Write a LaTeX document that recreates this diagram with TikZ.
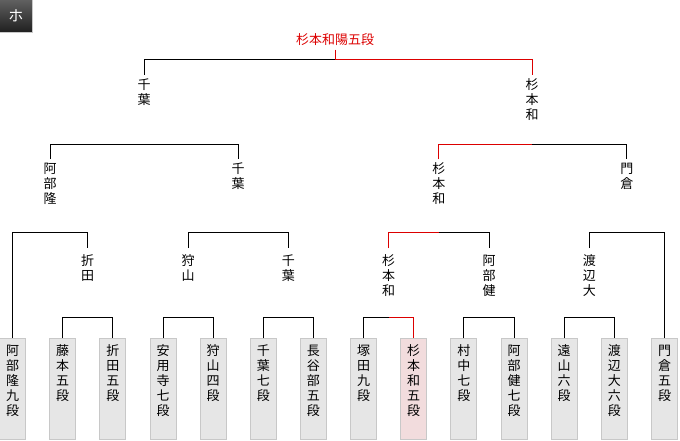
\documentclass[tikz,border=0pt]{standalone}
\usepackage{fontspec}
\newfontfamily\jp{Noto Sans CJK JP}
\usetikzlibrary{calc}
\definecolor{winred}{RGB}{220,0,0}
\definecolor{boxfill}{RGB}{230,230,230}
\definecolor{boxline}{RGB}{200,200,200}
\definecolor{winfill}{RGB}{242,220,221}
\newcommand\tbracket[3]{\draw[link] (#1.north) -- (#1.north |- 0,#3) -- (#2.north |- 0,#3) -- (#2.north);}
\newcommand\tredpath[3]{\draw[win] (#1.north) -- (#1.north |- 0,#3) -- (#2.north |- 0,#3);}
\begin{document}
\begin{tikzpicture}[x=1pt,y=-1pt,
  every node/.style={font=\jp\fontsize{13}{15}\selectfont, inner sep=0pt, outer sep=0pt},
  leafbox/.style={draw=boxline, fill=boxfill, minimum width=26pt, minimum height=101pt, anchor=north, line width=1pt},
  winbox/.style={leafbox, fill=winfill},
  vtext/.style={align=center, anchor=north},
  name1/.style={vtext, inner ysep=7pt},
  name2/.style={vtext, inner ysep=4pt},
  link/.style={line width=1pt, black},
  win/.style={line width=1pt, winred},
  badge/.style={minimum width=33pt, minimum height=33pt, top color=black!62, bottom color=black!88, draw=boxline, line width=1pt, text=white, font=\jp\fontsize{15}{17}\selectfont}
]
\useasboundingbox (0,0) rectangle (680,440);

\node[badge] (tab) at (16,16) {ホ};

% leaves
\node[leafbox] (L0) at (12.5,338) {};
\node[leafbox] (L1) at (62.6,338) {};
\node[leafbox] (L2) at (112.8,338) {};
\node[leafbox] (L3) at (163,338) {};
\node[leafbox] (L4) at (213.1,338) {};
\node[leafbox] (L5) at (263.3,338) {};
\node[leafbox] (L6) at (313.4,338) {};
\node[leafbox] (L7) at (363.6,338) {};
\node[winbox]  (L8) at (413.7,338) {};
\node[leafbox] (L9) at (463.9,338) {};
\node[leafbox] (L10) at (514,338) {};
\node[leafbox] (L11) at (564.2,338) {};
\node[leafbox] (L12) at (614.3,338) {};
\node[leafbox] (L13) at (664.5,338) {};

\node[vtext] (T0) at (12.5,345) {阿\\部\\隆\\九\\段};
\node[vtext] (T1) at (62.6,345) {藤\\本\\五\\段};
\node[vtext] (T2) at (112.8,345) {折\\田\\五\\段};
\node[vtext] (T3) at (163,345) {安\\用\\寺\\七\\段};
\node[vtext] (T4) at (213.1,345) {狩\\山\\四\\段};
\node[vtext] (T5) at (263.3,345) {千\\葉\\七\\段};
\node[vtext] (T6) at (313.4,345) {長\\谷\\部\\五\\段};
\node[vtext] (T7) at (363.6,345) {塚\\田\\九\\段};
\node[vtext] (T8) at (413.7,345) {杉\\本\\和\\五\\段};
\node[vtext] (T9) at (463.9,345) {村\\中\\七\\段};
\node[vtext] (T10) at (514,345) {阿\\部\\健\\七\\段};
\node[vtext] (T11) at (564.2,345) {遠\\山\\六\\段};
\node[vtext] (T12) at (614.3,345) {渡\\辺\\大\\六\\段};
\node[vtext] (T13) at (664.5,345) {門\\倉\\五\\段};

% round 1 winners
\node[name1] (A1) at (87.7,248) {折\\田};
\node[name1] (A2) at (188,248) {狩\\山};
\node[name1] (A3) at (288.3,248) {千\\葉};
\node[name1] (A4) at (388.6,248) {杉\\本\\和};
\node[name1] (A5) at (489,248) {阿\\部\\健};
\node[name1] (A6) at (589.3,248) {渡\\辺\\大};

% round 2 winners
\node[name2] (B1) at (50.1,159) {阿\\部\\隆};
\node[name2] (B2) at (238.2,159) {千\\葉};
\node[name2] (B3) at (438.8,159) {杉\\本\\和};
\node[name2] (B4) at (626.9,159) {門\\倉};

% round 3 winners
\node[name2] (C1) at (144.1,74.5) {千\\葉};
\node[name2] (C2) at (532,74.5) {杉\\本\\和};

% champion
\node[anchor=base, inner ysep=4.5pt, text=winred] (W) at (335,44) {杉本和陽五段};

% brackets
\tbracket{L1}{L2}{317}
\tbracket{L3}{L4}{317}
\tbracket{L5}{L6}{317}
\tbracket{L7}{L8}{317}
\tbracket{L9}{L10}{317}
\tbracket{L11}{L12}{317}

\tbracket{L0}{A1}{232}
\tbracket{A2}{A3}{232}
\tbracket{A4}{A5}{232}
\tbracket{A6}{L13}{232}

\tbracket{B1}{B2}{144}
\tbracket{B3}{B4}{144}

\tbracket{C1}{C2}{59}

% winner path
\tredpath{L8}{A4}{317}
\tredpath{A4}{B3}{232}
\tredpath{B3}{C2}{144}
\tredpath{C2}{W}{59}
\draw[win] (W.south) -- (W.south |- 0,59);
\end{tikzpicture}
\end{document}
